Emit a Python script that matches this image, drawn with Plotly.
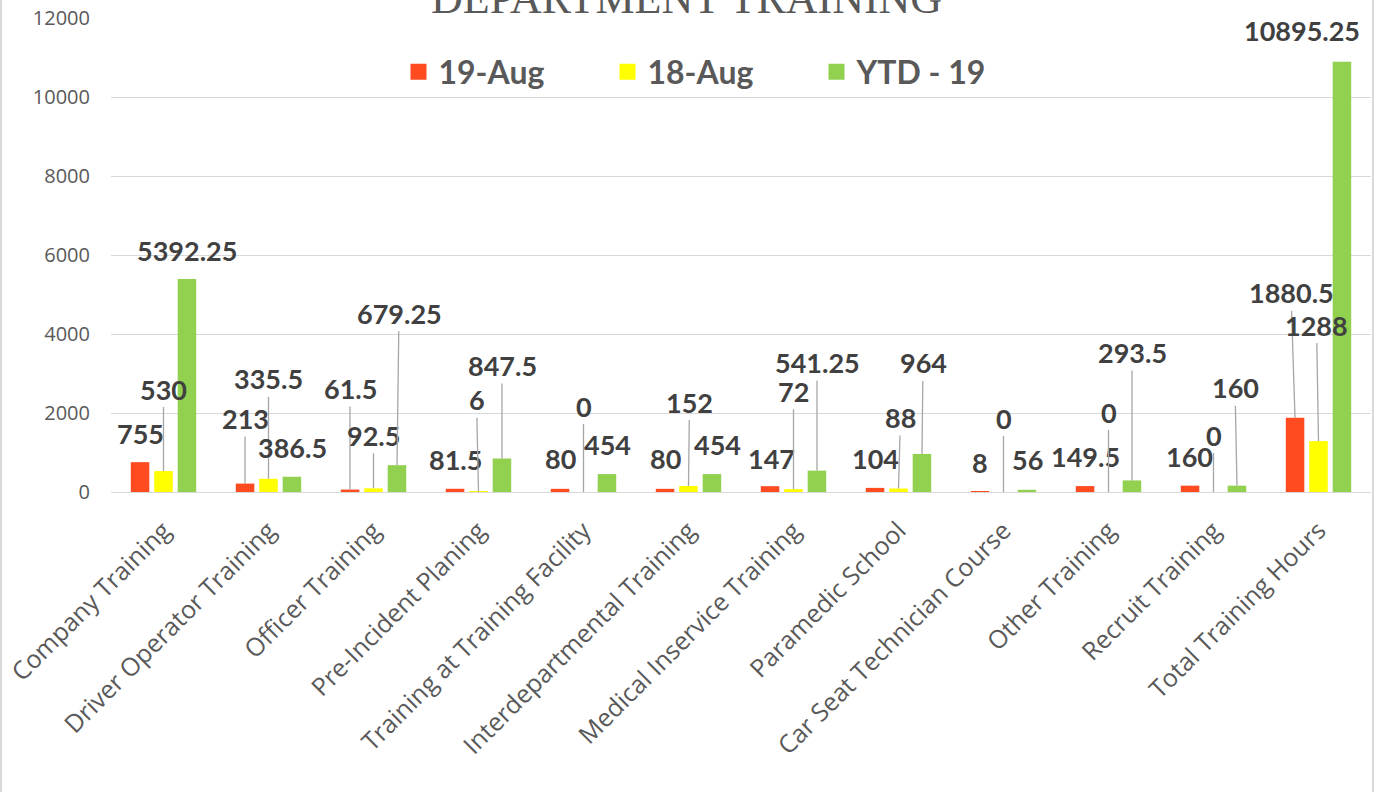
import plotly.graph_objects as go

# ---------------- data ----------------
categories = [
    "Company Training", "Driver Operator Training", "Officer Training",
    "Pre-Incident Planing", "Training at Training Facility",
    "Interdepartmental Training", "Medical Inservice Training",
    "Paramedic School", "Car Seat Technician Course", "Other Training",
    "Recruit Training", "Total Training Hours",
]
aug19 = [755, 213, 61.5, 81.5, 80, 80, 147, 104, 8, 149.5, 160, 1880.5]
aug18 = [530, 335.5, 92.5, 6, 0, 152, 72, 88, 0, 0, 0, 1288]
ytd19 = [5392.25, 386.5, 679.25, 847.5, 454, 454, 541.25, 964, 56, 293.5, 160, 10895.25]
series_names = ["19-Aug", "18-Aug", "YTD - 19"]
y_ticks = [0, 2000, 4000, 6000, 8000, 10000, 12000]
title_text = "DEPARTMENT TRAINING"

# ---------------- styling / label placement ----------------
colors = ["#FF4B1F", "#FFFF00", "#92D050"]
# label offsets (ax, ay in px from bar top) and whether a leader line shows
lab_red = [(0, -29, 0), (0, -65, 1), (0, -101, 1), (0, -29, 0), (0, -30, 0), (0, -30, 0),
           (1, -28, 0), (0, -29, 0), (0, -29, 0), (0, -30, 0), (-1, -29, 0), (-4, -125, 1)]
lab_yel = [(0, -82, 1), (0, -100, 1), (0, -53, 1), (-2, -92, 1), (0, -86, 1), (1, -84, 1),
           (0, -98, 1), (2, -71, 1), (0, -74, 1), (0, -80, 1), (0, -57, 1), (-2, -116, 1)]
lab_grn = [(0, -29, 0), (0, -29, 0), (2, -152, 1), (0, -93, 1), (0, -30, 0), (5, -30, 0),
           (0, -108, 1), (1, -91, 1), (0, -30, 0), (0, -128, 1), (-2, -98, 1), (-40, -31, 0)]
label_sets = [lab_red, lab_yel, lab_grn]
series_shift = [-23.5, 0, 23.5]

W, H = 1379, 792
ML, MR, MT, MB = 111, 8, 18, 300
PW = W - ML - MR
PH = H - MT - MB

fig = go.Figure()
all_series = [aug19, aug18, ytd19]
for name, vals, col in zip(series_names, all_series, colors):
    fig.add_trace(go.Bar(name=name, x=categories, y=vals, marker_color=col,
                         marker_line_width=0, showlegend=False, hoverinfo="x+y"))
# legend entries with larger square swatches
for name, col in zip(series_names, colors):
    fig.add_trace(go.Scatter(name=name, x=[None], y=[None], mode="markers",
                             marker=dict(symbol="square", size=20, color=col)))


def fmt(v):
    return str(int(v)) if float(v).is_integer() else str(v)


annotations = []
for vals, labs, shift in zip(all_series, label_sets, series_shift):
    for cat, v, (ax, ay, line) in zip(categories, vals, labs):
        annotations.append(dict(
            x=cat, y=v, xref="x", yref="y", xshift=shift,
            text="<b>%s</b>" % fmt(v), showarrow=True, arrowhead=0, standoff=0,
            ax=ax, ay=ay, arrowwidth=1.3,
            arrowcolor="#A6A6A6" if line else "rgba(0,0,0,0)",
            font=dict(family="Lato", size=27, color="#404040"),
        ))

annotations.append(dict(
    x=(686 - ML) / PW, xref="paper", xanchor="center", y=1, yref="paper", yanchor="bottom",
    yshift=-7, text=title_text, showarrow=False,
    font=dict(family="Liberation Serif", size=44, color="#595959"),
))

fig.update_layout(
    width=W, height=H,
    margin=dict(l=ML, r=MR, t=MT, b=MB, pad=0, autoexpand=False),
    paper_bgcolor="white", plot_bgcolor="white",
    barmode="group", bargap=0.33, bargroupgap=0.21,
    annotations=annotations,
    showlegend=True,
    legend=dict(orientation="h", x=(712 - ML) / PW, xanchor="center",
                y=(MT + PH - 72) / PH, yanchor="middle",
                entrywidth=164, entrywidthmode="pixels",
                font=dict(family="Lato", size=32, color="#595959", weight="bold"),
                bgcolor="rgba(0,0,0,0)"),
    xaxis=dict(tickangle=-45, tickfont=dict(family="Open Sans", size=25, color="#595959"),
               showgrid=False, showline=False, ticks="", zeroline=False,
               ticklabelstandoff=18, automargin=False),
    yaxis=dict(range=[0, 12000], tickvals=y_ticks, ticktext=[str(t) for t in y_ticks],
               ticks="", automargin=False,
               tickfont=dict(family="Open Sans", size=20, color="#595959"),
               showgrid=True, gridcolor="#D9D9D9", gridwidth=1.3,
               zeroline=True, zerolinecolor="#D9D9D9", zerolinewidth=1.3,
               showline=False, ticklabelstandoff=20),
    shapes=[
        dict(type="line", xref="paper", yref="paper",
             x0=-(ML - 1) / PW, x1=-(ML - 1) / PW, y0=-MB / PH, y1=1 + MT / PH,
             line=dict(color="#D9D9D9", width=2)),
        dict(type="line", xref="paper", yref="paper",
             x0=1 + 2 / PW, x1=1 + 2 / PW, y0=-MB / PH, y1=1 + MT / PH,
             line=dict(color="#D9D9D9", width=2)),
    ],
)

fig.write_html("out.html", config={"displayModeBar": False},
               post_script="document.body.style.margin='0';document.body.style.overflow='hidden';")
